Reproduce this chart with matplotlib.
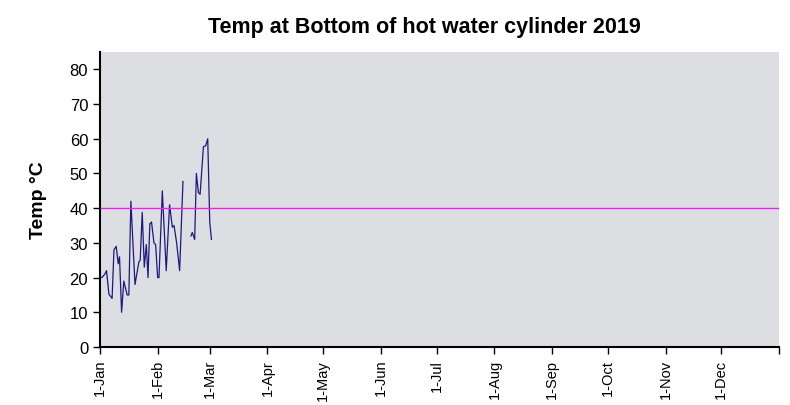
import numpy as np
import matplotlib
matplotlib.use("Agg")
import matplotlib.pyplot as plt

# day offsets from 1 Jan 2019 and temperature readings (NaN = no data)
days = [0, 1.0, 2.6, 3.5, 4.8, 6.5, 7.5, 8.7, 9.8, 10.5, 11.6, 12.8, 14.6, 15.5,
        16.6, 18.8, 20.9, 21.6, 22.7, 23.8, 24.9, 25.8, 26.8, 27.7, 29.0, 29.9,
        31.0, 31.7, 33.5, 35.6, 37.4, 38.9, 39.8, 41.2, 42.8, 44.6, 46.5,
        48.9, 49.6, 50.9, 51.8, 52.9, 53.8, 55.6, 56.8, 57.9, 59.0, 59.9]
temps = [20, 20, 21, 22, 15.2, 14, 28, 29, 24, 26, 10, 19, 15, 15,
         42, 18, 24.5, 25, 38.8, 23, 29.5, 20, 35.5, 36, 30, 29.5,
         20, 20, 45, 22, 41, 34.5, 35, 30, 22, 47.7, np.nan,
         32, 33, 31, 50, 44.5, 44, 57.7, 58, 60, 36, 31]

month_starts = [0, 31, 59, 90, 120, 151, 181, 212, 243, 273, 304, 334, 365]
month_labels = ["1-Jan", "1-Feb", "1-Mar", "1-Apr", "1-May", "1-Jun", "1-Jul",
                "1-Aug", "1-Sep", "1-Oct", "1-Nov", "1-Dec", ""]
target = 40

fig = plt.figure(figsize=(7.9, 4.06), dpi=100)
ax = fig.add_axes([100 / 790, 1 - 348 / 406, 679 / 790, 295 / 406])
ax.set_facecolor("#dddee2")

ax.plot(days, temps, color="#1a1a80", lw=0.9)
ax.axhline(target, color="#ee22ee", lw=1)

ax.set_xlim(0, 365)
ax.set_ylim(0, 85)
ax.set_yticks(range(0, 90, 10))
ax.set_xticks(month_starts)
ax.set_xticklabels(month_labels, rotation=90, fontsize=10.5, family="Liberation Sans")
for lab in ax.get_yticklabels():
    lab.set_fontsize(12)
    lab.set_family("Liberation Sans")
ax.tick_params(axis="both", length=5, width=1, color="black", direction="out")

for s in ["top", "right"]:
    ax.spines[s].set_visible(False)
ax.spines["left"].set_linewidth(1.5)
ax.spines["bottom"].set_linewidth(1.5)

ax.set_ylabel("Temp °C", fontsize=14, fontweight="bold", family="Liberation Sans", labelpad=16)
fig.text(0.537, 1 - 28 / 406, "Temp at Bottom of hot water cylinder 2019", ha="center", va="center",
         fontsize=15.5, fontweight="bold", family="Liberation Sans")

fig.savefig("out.png", dpi=100)
